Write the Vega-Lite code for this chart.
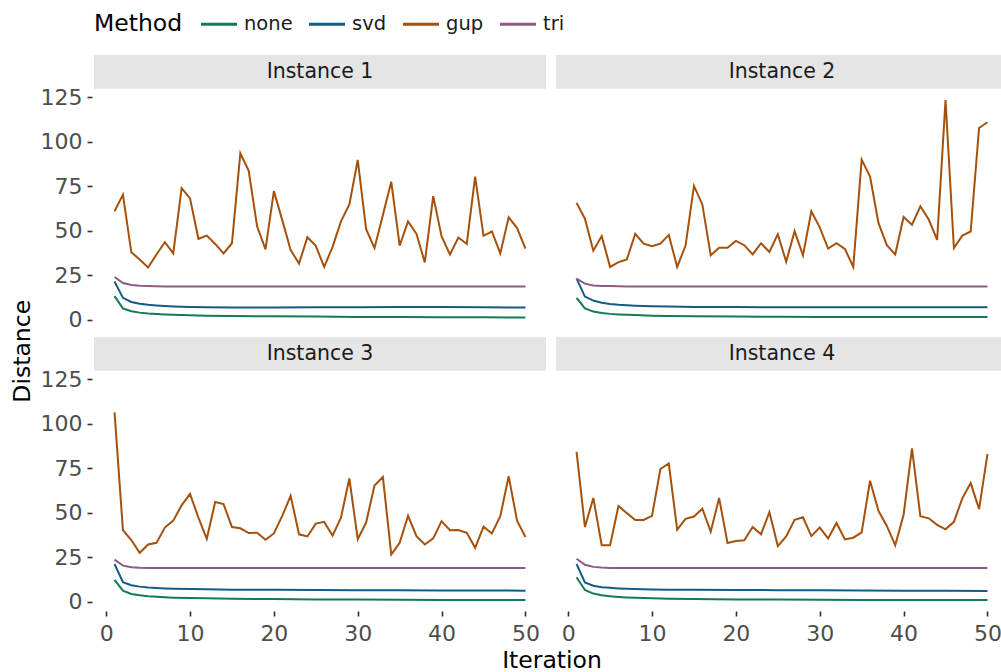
{
"$schema": "https://vega.github.io/schema/vega-lite/v6.json",
"padding": {"left": 10, "top": 4, "right": 0, "bottom": 0},
"title": {"text": "Distance", "orient": "left", "anchor": "middle", "fontSize": 23.5, "fontWeight": "normal", "color": "#000000", "offset": 6, "frame": "bounds", "dx": -13},
"data": {"values": [
{"Instance":"Instance 1","Method":"gup","Iteration":1,"Distance":61},
{"Instance":"Instance 1","Method":"gup","Iteration":2,"Distance":70.3},
{"Instance":"Instance 1","Method":"gup","Iteration":3,"Distance":37.9},
{"Instance":"Instance 1","Method":"gup","Iteration":4,"Distance":33.9},
{"Instance":"Instance 1","Method":"gup","Iteration":5,"Distance":29.4},
{"Instance":"Instance 1","Method":"gup","Iteration":6,"Distance":36.7},
{"Instance":"Instance 1","Method":"gup","Iteration":7,"Distance":43.6},
{"Instance":"Instance 1","Method":"gup","Iteration":8,"Distance":37.3},
{"Instance":"Instance 1","Method":"gup","Iteration":9,"Distance":74},
{"Instance":"Instance 1","Method":"gup","Iteration":10,"Distance":68.2},
{"Instance":"Instance 1","Method":"gup","Iteration":11,"Distance":45.5},
{"Instance":"Instance 1","Method":"gup","Iteration":12,"Distance":47.3},
{"Instance":"Instance 1","Method":"gup","Iteration":13,"Distance":42.6},
{"Instance":"Instance 1","Method":"gup","Iteration":14,"Distance":37.3},
{"Instance":"Instance 1","Method":"gup","Iteration":15,"Distance":43},
{"Instance":"Instance 1","Method":"gup","Iteration":16,"Distance":93.6},
{"Instance":"Instance 1","Method":"gup","Iteration":17,"Distance":83.7},
{"Instance":"Instance 1","Method":"gup","Iteration":18,"Distance":52.5},
{"Instance":"Instance 1","Method":"gup","Iteration":19,"Distance":39.6},
{"Instance":"Instance 1","Method":"gup","Iteration":20,"Distance":72.3},
{"Instance":"Instance 1","Method":"gup","Iteration":21,"Distance":56},
{"Instance":"Instance 1","Method":"gup","Iteration":22,"Distance":39.2},
{"Instance":"Instance 1","Method":"gup","Iteration":23,"Distance":31.6},
{"Instance":"Instance 1","Method":"gup","Iteration":24,"Distance":46.4},
{"Instance":"Instance 1","Method":"gup","Iteration":25,"Distance":41.5},
{"Instance":"Instance 1","Method":"gup","Iteration":26,"Distance":29.7},
{"Instance":"Instance 1","Method":"gup","Iteration":27,"Distance":41},
{"Instance":"Instance 1","Method":"gup","Iteration":28,"Distance":55.3},
{"Instance":"Instance 1","Method":"gup","Iteration":29,"Distance":64.8},
{"Instance":"Instance 1","Method":"gup","Iteration":30,"Distance":89.8},
{"Instance":"Instance 1","Method":"gup","Iteration":31,"Distance":50.9},
{"Instance":"Instance 1","Method":"gup","Iteration":32,"Distance":40.3},
{"Instance":"Instance 1","Method":"gup","Iteration":33,"Distance":58.9},
{"Instance":"Instance 1","Method":"gup","Iteration":34,"Distance":77.5},
{"Instance":"Instance 1","Method":"gup","Iteration":35,"Distance":41.7},
{"Instance":"Instance 1","Method":"gup","Iteration":36,"Distance":55.3},
{"Instance":"Instance 1","Method":"gup","Iteration":37,"Distance":48.3},
{"Instance":"Instance 1","Method":"gup","Iteration":38,"Distance":32.2},
{"Instance":"Instance 1","Method":"gup","Iteration":39,"Distance":69.5},
{"Instance":"Instance 1","Method":"gup","Iteration":40,"Distance":46.8},
{"Instance":"Instance 1","Method":"gup","Iteration":41,"Distance":36.7},
{"Instance":"Instance 1","Method":"gup","Iteration":42,"Distance":46.2},
{"Instance":"Instance 1","Method":"gup","Iteration":43,"Distance":42.6},
{"Instance":"Instance 1","Method":"gup","Iteration":44,"Distance":80.5},
{"Instance":"Instance 1","Method":"gup","Iteration":45,"Distance":47.2},
{"Instance":"Instance 1","Method":"gup","Iteration":46,"Distance":49.6},
{"Instance":"Instance 1","Method":"gup","Iteration":47,"Distance":37.3},
{"Instance":"Instance 1","Method":"gup","Iteration":48,"Distance":57.6},
{"Instance":"Instance 1","Method":"gup","Iteration":49,"Distance":51.5},
{"Instance":"Instance 1","Method":"gup","Iteration":50,"Distance":40},
{"Instance":"Instance 2","Method":"gup","Iteration":1,"Distance":65.7},
{"Instance":"Instance 2","Method":"gup","Iteration":2,"Distance":56.8},
{"Instance":"Instance 2","Method":"gup","Iteration":3,"Distance":38.8},
{"Instance":"Instance 2","Method":"gup","Iteration":4,"Distance":47},
{"Instance":"Instance 2","Method":"gup","Iteration":5,"Distance":29.7},
{"Instance":"Instance 2","Method":"gup","Iteration":6,"Distance":32.4},
{"Instance":"Instance 2","Method":"gup","Iteration":7,"Distance":33.9},
{"Instance":"Instance 2","Method":"gup","Iteration":8,"Distance":48.3},
{"Instance":"Instance 2","Method":"gup","Iteration":9,"Distance":42.8},
{"Instance":"Instance 2","Method":"gup","Iteration":10,"Distance":41.3},
{"Instance":"Instance 2","Method":"gup","Iteration":11,"Distance":42.8},
{"Instance":"Instance 2","Method":"gup","Iteration":12,"Distance":47.7},
{"Instance":"Instance 2","Method":"gup","Iteration":13,"Distance":29.7},
{"Instance":"Instance 2","Method":"gup","Iteration":14,"Distance":41.7},
{"Instance":"Instance 2","Method":"gup","Iteration":15,"Distance":75.2},
{"Instance":"Instance 2","Method":"gup","Iteration":16,"Distance":64.8},
{"Instance":"Instance 2","Method":"gup","Iteration":17,"Distance":36.2},
{"Instance":"Instance 2","Method":"gup","Iteration":18,"Distance":40.5},
{"Instance":"Instance 2","Method":"gup","Iteration":19,"Distance":40.5},
{"Instance":"Instance 2","Method":"gup","Iteration":20,"Distance":44.3},
{"Instance":"Instance 2","Method":"gup","Iteration":21,"Distance":41.9},
{"Instance":"Instance 2","Method":"gup","Iteration":22,"Distance":36.7},
{"Instance":"Instance 2","Method":"gup","Iteration":23,"Distance":43},
{"Instance":"Instance 2","Method":"gup","Iteration":24,"Distance":38.1},
{"Instance":"Instance 2","Method":"gup","Iteration":25,"Distance":48.1},
{"Instance":"Instance 2","Method":"gup","Iteration":26,"Distance":32.6},
{"Instance":"Instance 2","Method":"gup","Iteration":27,"Distance":49.8},
{"Instance":"Instance 2","Method":"gup","Iteration":28,"Distance":36.2},
{"Instance":"Instance 2","Method":"gup","Iteration":29,"Distance":61},
{"Instance":"Instance 2","Method":"gup","Iteration":30,"Distance":51.9},
{"Instance":"Instance 2","Method":"gup","Iteration":31,"Distance":40},
{"Instance":"Instance 2","Method":"gup","Iteration":32,"Distance":43},
{"Instance":"Instance 2","Method":"gup","Iteration":33,"Distance":39.8},
{"Instance":"Instance 2","Method":"gup","Iteration":34,"Distance":29.7},
{"Instance":"Instance 2","Method":"gup","Iteration":35,"Distance":90},
{"Instance":"Instance 2","Method":"gup","Iteration":36,"Distance":80.5},
{"Instance":"Instance 2","Method":"gup","Iteration":37,"Distance":54.4},
{"Instance":"Instance 2","Method":"gup","Iteration":38,"Distance":41.9},
{"Instance":"Instance 2","Method":"gup","Iteration":39,"Distance":36.7},
{"Instance":"Instance 2","Method":"gup","Iteration":40,"Distance":57.8},
{"Instance":"Instance 2","Method":"gup","Iteration":41,"Distance":53.4},
{"Instance":"Instance 2","Method":"gup","Iteration":42,"Distance":63.8},
{"Instance":"Instance 2","Method":"gup","Iteration":43,"Distance":56.3},
{"Instance":"Instance 2","Method":"gup","Iteration":44,"Distance":44.9},
{"Instance":"Instance 2","Method":"gup","Iteration":45,"Distance":123.5},
{"Instance":"Instance 2","Method":"gup","Iteration":46,"Distance":40.3},
{"Instance":"Instance 2","Method":"gup","Iteration":47,"Distance":47.3},
{"Instance":"Instance 2","Method":"gup","Iteration":48,"Distance":49.6},
{"Instance":"Instance 2","Method":"gup","Iteration":49,"Distance":107.8},
{"Instance":"Instance 2","Method":"gup","Iteration":50,"Distance":111},
{"Instance":"Instance 3","Method":"gup","Iteration":1,"Distance":106.4},
{"Instance":"Instance 3","Method":"gup","Iteration":2,"Distance":40.2},
{"Instance":"Instance 3","Method":"gup","Iteration":3,"Distance":34.7},
{"Instance":"Instance 3","Method":"gup","Iteration":4,"Distance":27.5},
{"Instance":"Instance 3","Method":"gup","Iteration":5,"Distance":32.2},
{"Instance":"Instance 3","Method":"gup","Iteration":6,"Distance":33.1},
{"Instance":"Instance 3","Method":"gup","Iteration":7,"Distance":41.7},
{"Instance":"Instance 3","Method":"gup","Iteration":8,"Distance":45.6},
{"Instance":"Instance 3","Method":"gup","Iteration":9,"Distance":54.2},
{"Instance":"Instance 3","Method":"gup","Iteration":10,"Distance":60.6},
{"Instance":"Instance 3","Method":"gup","Iteration":11,"Distance":47.3},
{"Instance":"Instance 3","Method":"gup","Iteration":12,"Distance":35.4},
{"Instance":"Instance 3","Method":"gup","Iteration":13,"Distance":56.1},
{"Instance":"Instance 3","Method":"gup","Iteration":14,"Distance":54.9},
{"Instance":"Instance 3","Method":"gup","Iteration":15,"Distance":42},
{"Instance":"Instance 3","Method":"gup","Iteration":16,"Distance":41.3},
{"Instance":"Instance 3","Method":"gup","Iteration":17,"Distance":38.6},
{"Instance":"Instance 3","Method":"gup","Iteration":18,"Distance":38.8},
{"Instance":"Instance 3","Method":"gup","Iteration":19,"Distance":34.8},
{"Instance":"Instance 3","Method":"gup","Iteration":20,"Distance":38.4},
{"Instance":"Instance 3","Method":"gup","Iteration":21,"Distance":48.3},
{"Instance":"Instance 3","Method":"gup","Iteration":22,"Distance":59.5},
{"Instance":"Instance 3","Method":"gup","Iteration":23,"Distance":37.9},
{"Instance":"Instance 3","Method":"gup","Iteration":24,"Distance":36.7},
{"Instance":"Instance 3","Method":"gup","Iteration":25,"Distance":43.9},
{"Instance":"Instance 3","Method":"gup","Iteration":26,"Distance":44.9},
{"Instance":"Instance 3","Method":"gup","Iteration":27,"Distance":37.1},
{"Instance":"Instance 3","Method":"gup","Iteration":28,"Distance":47.3},
{"Instance":"Instance 3","Method":"gup","Iteration":29,"Distance":69.3},
{"Instance":"Instance 3","Method":"gup","Iteration":30,"Distance":35.2},
{"Instance":"Instance 3","Method":"gup","Iteration":31,"Distance":44.5},
{"Instance":"Instance 3","Method":"gup","Iteration":32,"Distance":65.3},
{"Instance":"Instance 3","Method":"gup","Iteration":33,"Distance":70.1},
{"Instance":"Instance 3","Method":"gup","Iteration":34,"Distance":26.5},
{"Instance":"Instance 3","Method":"gup","Iteration":35,"Distance":33.1},
{"Instance":"Instance 3","Method":"gup","Iteration":36,"Distance":48.3},
{"Instance":"Instance 3","Method":"gup","Iteration":37,"Distance":36.9},
{"Instance":"Instance 3","Method":"gup","Iteration":38,"Distance":32.2},
{"Instance":"Instance 3","Method":"gup","Iteration":39,"Distance":35.6},
{"Instance":"Instance 3","Method":"gup","Iteration":40,"Distance":45.3},
{"Instance":"Instance 3","Method":"gup","Iteration":41,"Distance":40.2},
{"Instance":"Instance 3","Method":"gup","Iteration":42,"Distance":40.3},
{"Instance":"Instance 3","Method":"gup","Iteration":43,"Distance":38.8},
{"Instance":"Instance 3","Method":"gup","Iteration":44,"Distance":30.3},
{"Instance":"Instance 3","Method":"gup","Iteration":45,"Distance":42.2},
{"Instance":"Instance 3","Method":"gup","Iteration":46,"Distance":38.4},
{"Instance":"Instance 3","Method":"gup","Iteration":47,"Distance":48.1},
{"Instance":"Instance 3","Method":"gup","Iteration":48,"Distance":70.5},
{"Instance":"Instance 3","Method":"gup","Iteration":49,"Distance":45.5},
{"Instance":"Instance 3","Method":"gup","Iteration":50,"Distance":36.4},
{"Instance":"Instance 4","Method":"gup","Iteration":1,"Distance":84.3},
{"Instance":"Instance 4","Method":"gup","Iteration":2,"Distance":42},
{"Instance":"Instance 4","Method":"gup","Iteration":3,"Distance":58.3},
{"Instance":"Instance 4","Method":"gup","Iteration":4,"Distance":31.8},
{"Instance":"Instance 4","Method":"gup","Iteration":5,"Distance":31.8},
{"Instance":"Instance 4","Method":"gup","Iteration":6,"Distance":53.8},
{"Instance":"Instance 4","Method":"gup","Iteration":7,"Distance":49.8},
{"Instance":"Instance 4","Method":"gup","Iteration":8,"Distance":46},
{"Instance":"Instance 4","Method":"gup","Iteration":9,"Distance":46},
{"Instance":"Instance 4","Method":"gup","Iteration":10,"Distance":48.3},
{"Instance":"Instance 4","Method":"gup","Iteration":11,"Distance":74.6},
{"Instance":"Instance 4","Method":"gup","Iteration":12,"Distance":77.7},
{"Instance":"Instance 4","Method":"gup","Iteration":13,"Distance":40.5},
{"Instance":"Instance 4","Method":"gup","Iteration":14,"Distance":46.6},
{"Instance":"Instance 4","Method":"gup","Iteration":15,"Distance":47.9},
{"Instance":"Instance 4","Method":"gup","Iteration":16,"Distance":52.3},
{"Instance":"Instance 4","Method":"gup","Iteration":17,"Distance":39.4},
{"Instance":"Instance 4","Method":"gup","Iteration":18,"Distance":58.3},
{"Instance":"Instance 4","Method":"gup","Iteration":19,"Distance":33},
{"Instance":"Instance 4","Method":"gup","Iteration":20,"Distance":34.1},
{"Instance":"Instance 4","Method":"gup","Iteration":21,"Distance":34.5},
{"Instance":"Instance 4","Method":"gup","Iteration":22,"Distance":42},
{"Instance":"Instance 4","Method":"gup","Iteration":23,"Distance":37.9},
{"Instance":"Instance 4","Method":"gup","Iteration":24,"Distance":50.4},
{"Instance":"Instance 4","Method":"gup","Iteration":25,"Distance":31.3},
{"Instance":"Instance 4","Method":"gup","Iteration":26,"Distance":36.7},
{"Instance":"Instance 4","Method":"gup","Iteration":27,"Distance":46},
{"Instance":"Instance 4","Method":"gup","Iteration":28,"Distance":47.5},
{"Instance":"Instance 4","Method":"gup","Iteration":29,"Distance":36.9},
{"Instance":"Instance 4","Method":"gup","Iteration":30,"Distance":41.7},
{"Instance":"Instance 4","Method":"gup","Iteration":31,"Distance":35.6},
{"Instance":"Instance 4","Method":"gup","Iteration":32,"Distance":44.3},
{"Instance":"Instance 4","Method":"gup","Iteration":33,"Distance":35},
{"Instance":"Instance 4","Method":"gup","Iteration":34,"Distance":36},
{"Instance":"Instance 4","Method":"gup","Iteration":35,"Distance":39},
{"Instance":"Instance 4","Method":"gup","Iteration":36,"Distance":68},
{"Instance":"Instance 4","Method":"gup","Iteration":37,"Distance":51.1},
{"Instance":"Instance 4","Method":"gup","Iteration":38,"Distance":42.6},
{"Instance":"Instance 4","Method":"gup","Iteration":39,"Distance":31.8},
{"Instance":"Instance 4","Method":"gup","Iteration":40,"Distance":48.9},
{"Instance":"Instance 4","Method":"gup","Iteration":41,"Distance":86.2},
{"Instance":"Instance 4","Method":"gup","Iteration":42,"Distance":48.1},
{"Instance":"Instance 4","Method":"gup","Iteration":43,"Distance":46.9},
{"Instance":"Instance 4","Method":"gup","Iteration":44,"Distance":43.2},
{"Instance":"Instance 4","Method":"gup","Iteration":45,"Distance":40.7},
{"Instance":"Instance 4","Method":"gup","Iteration":46,"Distance":44.9},
{"Instance":"Instance 4","Method":"gup","Iteration":47,"Distance":58.1},
{"Instance":"Instance 4","Method":"gup","Iteration":48,"Distance":66.7},
{"Instance":"Instance 4","Method":"gup","Iteration":49,"Distance":52.1},
{"Instance":"Instance 4","Method":"gup","Iteration":50,"Distance":83},
{"Instance":"Instance 1","Method":"none","Iteration":1,"Distance":13.3},
{"Instance":"Instance 1","Method":"none","Iteration":2,"Distance":6.4},
{"Instance":"Instance 1","Method":"none","Iteration":3,"Distance":4.8},
{"Instance":"Instance 1","Method":"none","Iteration":4,"Distance":4.0},
{"Instance":"Instance 1","Method":"none","Iteration":5,"Distance":3.5},
{"Instance":"Instance 1","Method":"none","Iteration":6,"Distance":3.2},
{"Instance":"Instance 1","Method":"none","Iteration":7,"Distance":3.0},
{"Instance":"Instance 1","Method":"none","Iteration":8,"Distance":2.8},
{"Instance":"Instance 1","Method":"none","Iteration":10,"Distance":2.5},
{"Instance":"Instance 1","Method":"none","Iteration":12,"Distance":2.3},
{"Instance":"Instance 1","Method":"none","Iteration":15,"Distance":2.1},
{"Instance":"Instance 1","Method":"none","Iteration":20,"Distance":1.9},
{"Instance":"Instance 1","Method":"none","Iteration":25,"Distance":1.8},
{"Instance":"Instance 1","Method":"none","Iteration":30,"Distance":1.6},
{"Instance":"Instance 1","Method":"none","Iteration":35,"Distance":1.5},
{"Instance":"Instance 1","Method":"none","Iteration":40,"Distance":1.4},
{"Instance":"Instance 1","Method":"none","Iteration":45,"Distance":1.35},
{"Instance":"Instance 1","Method":"none","Iteration":50,"Distance":1.3},
{"Instance":"Instance 1","Method":"svd","Iteration":1,"Distance":21.5},
{"Instance":"Instance 1","Method":"svd","Iteration":2,"Distance":12.3},
{"Instance":"Instance 1","Method":"svd","Iteration":3,"Distance":10.0},
{"Instance":"Instance 1","Method":"svd","Iteration":4,"Distance":9.0},
{"Instance":"Instance 1","Method":"svd","Iteration":5,"Distance":8.4},
{"Instance":"Instance 1","Method":"svd","Iteration":6,"Distance":8.0},
{"Instance":"Instance 1","Method":"svd","Iteration":7,"Distance":7.7},
{"Instance":"Instance 1","Method":"svd","Iteration":8,"Distance":7.5},
{"Instance":"Instance 1","Method":"svd","Iteration":10,"Distance":7.2},
{"Instance":"Instance 1","Method":"svd","Iteration":12,"Distance":7.0},
{"Instance":"Instance 1","Method":"svd","Iteration":15,"Distance":6.9},
{"Instance":"Instance 1","Method":"svd","Iteration":20,"Distance":6.9},
{"Instance":"Instance 1","Method":"svd","Iteration":25,"Distance":7.0},
{"Instance":"Instance 1","Method":"svd","Iteration":30,"Distance":7.0},
{"Instance":"Instance 1","Method":"svd","Iteration":35,"Distance":7.1},
{"Instance":"Instance 1","Method":"svd","Iteration":40,"Distance":7.1},
{"Instance":"Instance 1","Method":"svd","Iteration":45,"Distance":7.0},
{"Instance":"Instance 1","Method":"svd","Iteration":50,"Distance":6.9},
{"Instance":"Instance 1","Method":"tri","Iteration":1,"Distance":24.0},
{"Instance":"Instance 1","Method":"tri","Iteration":2,"Distance":20.6},
{"Instance":"Instance 1","Method":"tri","Iteration":3,"Distance":19.5},
{"Instance":"Instance 1","Method":"tri","Iteration":4,"Distance":19.1},
{"Instance":"Instance 1","Method":"tri","Iteration":5,"Distance":18.9},
{"Instance":"Instance 1","Method":"tri","Iteration":6,"Distance":18.8},
{"Instance":"Instance 1","Method":"tri","Iteration":7,"Distance":18.75},
{"Instance":"Instance 1","Method":"tri","Iteration":8,"Distance":18.7},
{"Instance":"Instance 1","Method":"tri","Iteration":10,"Distance":18.7},
{"Instance":"Instance 1","Method":"tri","Iteration":12,"Distance":18.7},
{"Instance":"Instance 1","Method":"tri","Iteration":15,"Distance":18.7},
{"Instance":"Instance 1","Method":"tri","Iteration":20,"Distance":18.7},
{"Instance":"Instance 1","Method":"tri","Iteration":25,"Distance":18.7},
{"Instance":"Instance 1","Method":"tri","Iteration":30,"Distance":18.7},
{"Instance":"Instance 1","Method":"tri","Iteration":35,"Distance":18.7},
{"Instance":"Instance 1","Method":"tri","Iteration":40,"Distance":18.7},
{"Instance":"Instance 1","Method":"tri","Iteration":45,"Distance":18.7},
{"Instance":"Instance 1","Method":"tri","Iteration":50,"Distance":18.7},
{"Instance":"Instance 2","Method":"none","Iteration":1,"Distance":12.3},
{"Instance":"Instance 2","Method":"none","Iteration":2,"Distance":6.4},
{"Instance":"Instance 2","Method":"none","Iteration":3,"Distance":4.6},
{"Instance":"Instance 2","Method":"none","Iteration":4,"Distance":3.8},
{"Instance":"Instance 2","Method":"none","Iteration":5,"Distance":3.3},
{"Instance":"Instance 2","Method":"none","Iteration":6,"Distance":3.0},
{"Instance":"Instance 2","Method":"none","Iteration":7,"Distance":2.8},
{"Instance":"Instance 2","Method":"none","Iteration":8,"Distance":2.6},
{"Instance":"Instance 2","Method":"none","Iteration":10,"Distance":2.3},
{"Instance":"Instance 2","Method":"none","Iteration":12,"Distance":2.1},
{"Instance":"Instance 2","Method":"none","Iteration":15,"Distance":1.9},
{"Instance":"Instance 2","Method":"none","Iteration":20,"Distance":1.8},
{"Instance":"Instance 2","Method":"none","Iteration":25,"Distance":1.7},
{"Instance":"Instance 2","Method":"none","Iteration":30,"Distance":1.6},
{"Instance":"Instance 2","Method":"none","Iteration":35,"Distance":1.55},
{"Instance":"Instance 2","Method":"none","Iteration":40,"Distance":1.5},
{"Instance":"Instance 2","Method":"none","Iteration":45,"Distance":1.5},
{"Instance":"Instance 2","Method":"none","Iteration":50,"Distance":1.5},
{"Instance":"Instance 2","Method":"svd","Iteration":1,"Distance":23.1},
{"Instance":"Instance 2","Method":"svd","Iteration":2,"Distance":13.0},
{"Instance":"Instance 2","Method":"svd","Iteration":3,"Distance":10.8},
{"Instance":"Instance 2","Method":"svd","Iteration":4,"Distance":9.6},
{"Instance":"Instance 2","Method":"svd","Iteration":5,"Distance":8.9},
{"Instance":"Instance 2","Method":"svd","Iteration":6,"Distance":8.4},
{"Instance":"Instance 2","Method":"svd","Iteration":7,"Distance":8.1},
{"Instance":"Instance 2","Method":"svd","Iteration":8,"Distance":7.9},
{"Instance":"Instance 2","Method":"svd","Iteration":10,"Distance":7.6},
{"Instance":"Instance 2","Method":"svd","Iteration":12,"Distance":7.4},
{"Instance":"Instance 2","Method":"svd","Iteration":15,"Distance":7.2},
{"Instance":"Instance 2","Method":"svd","Iteration":20,"Distance":7.1},
{"Instance":"Instance 2","Method":"svd","Iteration":25,"Distance":7.0},
{"Instance":"Instance 2","Method":"svd","Iteration":30,"Distance":7.0},
{"Instance":"Instance 2","Method":"svd","Iteration":35,"Distance":7.0},
{"Instance":"Instance 2","Method":"svd","Iteration":40,"Distance":7.0},
{"Instance":"Instance 2","Method":"svd","Iteration":45,"Distance":7.0},
{"Instance":"Instance 2","Method":"svd","Iteration":50,"Distance":7.0},
{"Instance":"Instance 2","Method":"tri","Iteration":1,"Distance":23.1},
{"Instance":"Instance 2","Method":"tri","Iteration":2,"Distance":20.3},
{"Instance":"Instance 2","Method":"tri","Iteration":3,"Distance":19.3},
{"Instance":"Instance 2","Method":"tri","Iteration":4,"Distance":19.0},
{"Instance":"Instance 2","Method":"tri","Iteration":5,"Distance":18.9},
{"Instance":"Instance 2","Method":"tri","Iteration":6,"Distance":18.8},
{"Instance":"Instance 2","Method":"tri","Iteration":7,"Distance":18.75},
{"Instance":"Instance 2","Method":"tri","Iteration":8,"Distance":18.75},
{"Instance":"Instance 2","Method":"tri","Iteration":10,"Distance":18.75},
{"Instance":"Instance 2","Method":"tri","Iteration":12,"Distance":18.75},
{"Instance":"Instance 2","Method":"tri","Iteration":15,"Distance":18.75},
{"Instance":"Instance 2","Method":"tri","Iteration":20,"Distance":18.75},
{"Instance":"Instance 2","Method":"tri","Iteration":25,"Distance":18.75},
{"Instance":"Instance 2","Method":"tri","Iteration":30,"Distance":18.75},
{"Instance":"Instance 2","Method":"tri","Iteration":35,"Distance":18.75},
{"Instance":"Instance 2","Method":"tri","Iteration":40,"Distance":18.75},
{"Instance":"Instance 2","Method":"tri","Iteration":45,"Distance":18.75},
{"Instance":"Instance 2","Method":"tri","Iteration":50,"Distance":18.75},
{"Instance":"Instance 3","Method":"none","Iteration":1,"Distance":12.3},
{"Instance":"Instance 3","Method":"none","Iteration":2,"Distance":6.25},
{"Instance":"Instance 3","Method":"none","Iteration":3,"Distance":4.4},
{"Instance":"Instance 3","Method":"none","Iteration":4,"Distance":3.6},
{"Instance":"Instance 3","Method":"none","Iteration":5,"Distance":3.1},
{"Instance":"Instance 3","Method":"none","Iteration":6,"Distance":2.8},
{"Instance":"Instance 3","Method":"none","Iteration":7,"Distance":2.5},
{"Instance":"Instance 3","Method":"none","Iteration":8,"Distance":2.3},
{"Instance":"Instance 3","Method":"none","Iteration":10,"Distance":2.1},
{"Instance":"Instance 3","Method":"none","Iteration":12,"Distance":1.9},
{"Instance":"Instance 3","Method":"none","Iteration":15,"Distance":1.7},
{"Instance":"Instance 3","Method":"none","Iteration":20,"Distance":1.5},
{"Instance":"Instance 3","Method":"none","Iteration":25,"Distance":1.3},
{"Instance":"Instance 3","Method":"none","Iteration":30,"Distance":1.2},
{"Instance":"Instance 3","Method":"none","Iteration":35,"Distance":1.1},
{"Instance":"Instance 3","Method":"none","Iteration":40,"Distance":1.0},
{"Instance":"Instance 3","Method":"none","Iteration":45,"Distance":1.0},
{"Instance":"Instance 3","Method":"none","Iteration":50,"Distance":0.95},
{"Instance":"Instance 3","Method":"svd","Iteration":1,"Distance":21.2},
{"Instance":"Instance 3","Method":"svd","Iteration":2,"Distance":11.0},
{"Instance":"Instance 3","Method":"svd","Iteration":3,"Distance":9.3},
{"Instance":"Instance 3","Method":"svd","Iteration":4,"Distance":8.5},
{"Instance":"Instance 3","Method":"svd","Iteration":5,"Distance":8.0},
{"Instance":"Instance 3","Method":"svd","Iteration":6,"Distance":7.7},
{"Instance":"Instance 3","Method":"svd","Iteration":7,"Distance":7.5},
{"Instance":"Instance 3","Method":"svd","Iteration":8,"Distance":7.3},
{"Instance":"Instance 3","Method":"svd","Iteration":10,"Distance":7.1},
{"Instance":"Instance 3","Method":"svd","Iteration":12,"Distance":7.0},
{"Instance":"Instance 3","Method":"svd","Iteration":15,"Distance":6.8},
{"Instance":"Instance 3","Method":"svd","Iteration":20,"Distance":6.7},
{"Instance":"Instance 3","Method":"svd","Iteration":25,"Distance":6.6},
{"Instance":"Instance 3","Method":"svd","Iteration":30,"Distance":6.5},
{"Instance":"Instance 3","Method":"svd","Iteration":35,"Distance":6.4},
{"Instance":"Instance 3","Method":"svd","Iteration":40,"Distance":6.35},
{"Instance":"Instance 3","Method":"svd","Iteration":45,"Distance":6.3},
{"Instance":"Instance 3","Method":"svd","Iteration":50,"Distance":6.25},
{"Instance":"Instance 3","Method":"tri","Iteration":1,"Distance":23.7},
{"Instance":"Instance 3","Method":"tri","Iteration":2,"Distance":20.3},
{"Instance":"Instance 3","Method":"tri","Iteration":3,"Distance":19.4},
{"Instance":"Instance 3","Method":"tri","Iteration":4,"Distance":19.1},
{"Instance":"Instance 3","Method":"tri","Iteration":5,"Distance":19.0},
{"Instance":"Instance 3","Method":"tri","Iteration":6,"Distance":18.95},
{"Instance":"Instance 3","Method":"tri","Iteration":7,"Distance":18.9},
{"Instance":"Instance 3","Method":"tri","Iteration":8,"Distance":18.9},
{"Instance":"Instance 3","Method":"tri","Iteration":10,"Distance":18.9},
{"Instance":"Instance 3","Method":"tri","Iteration":12,"Distance":18.9},
{"Instance":"Instance 3","Method":"tri","Iteration":15,"Distance":18.9},
{"Instance":"Instance 3","Method":"tri","Iteration":20,"Distance":18.9},
{"Instance":"Instance 3","Method":"tri","Iteration":25,"Distance":18.9},
{"Instance":"Instance 3","Method":"tri","Iteration":30,"Distance":18.9},
{"Instance":"Instance 3","Method":"tri","Iteration":35,"Distance":18.9},
{"Instance":"Instance 3","Method":"tri","Iteration":40,"Distance":18.9},
{"Instance":"Instance 3","Method":"tri","Iteration":45,"Distance":18.9},
{"Instance":"Instance 3","Method":"tri","Iteration":50,"Distance":18.9},
{"Instance":"Instance 4","Method":"none","Iteration":1,"Distance":13.8},
{"Instance":"Instance 4","Method":"none","Iteration":2,"Distance":6.6},
{"Instance":"Instance 4","Method":"none","Iteration":3,"Distance":4.6},
{"Instance":"Instance 4","Method":"none","Iteration":4,"Distance":3.7},
{"Instance":"Instance 4","Method":"none","Iteration":5,"Distance":3.1},
{"Instance":"Instance 4","Method":"none","Iteration":6,"Distance":2.7},
{"Instance":"Instance 4","Method":"none","Iteration":7,"Distance":2.4},
{"Instance":"Instance 4","Method":"none","Iteration":8,"Distance":2.2},
{"Instance":"Instance 4","Method":"none","Iteration":10,"Distance":1.9},
{"Instance":"Instance 4","Method":"none","Iteration":12,"Distance":1.7},
{"Instance":"Instance 4","Method":"none","Iteration":15,"Distance":1.5},
{"Instance":"Instance 4","Method":"none","Iteration":20,"Distance":1.3},
{"Instance":"Instance 4","Method":"none","Iteration":25,"Distance":1.2},
{"Instance":"Instance 4","Method":"none","Iteration":30,"Distance":1.1},
{"Instance":"Instance 4","Method":"none","Iteration":35,"Distance":1.05},
{"Instance":"Instance 4","Method":"none","Iteration":40,"Distance":1.0},
{"Instance":"Instance 4","Method":"none","Iteration":45,"Distance":0.95},
{"Instance":"Instance 4","Method":"none","Iteration":50,"Distance":0.95},
{"Instance":"Instance 4","Method":"svd","Iteration":1,"Distance":21.2},
{"Instance":"Instance 4","Method":"svd","Iteration":2,"Distance":10.8},
{"Instance":"Instance 4","Method":"svd","Iteration":3,"Distance":9.0},
{"Instance":"Instance 4","Method":"svd","Iteration":4,"Distance":8.2},
{"Instance":"Instance 4","Method":"svd","Iteration":5,"Distance":7.8},
{"Instance":"Instance 4","Method":"svd","Iteration":6,"Distance":7.5},
{"Instance":"Instance 4","Method":"svd","Iteration":7,"Distance":7.3},
{"Instance":"Instance 4","Method":"svd","Iteration":8,"Distance":7.1},
{"Instance":"Instance 4","Method":"svd","Iteration":10,"Distance":6.9},
{"Instance":"Instance 4","Method":"svd","Iteration":12,"Distance":6.8},
{"Instance":"Instance 4","Method":"svd","Iteration":15,"Distance":6.7},
{"Instance":"Instance 4","Method":"svd","Iteration":20,"Distance":6.6},
{"Instance":"Instance 4","Method":"svd","Iteration":25,"Distance":6.5},
{"Instance":"Instance 4","Method":"svd","Iteration":30,"Distance":6.4},
{"Instance":"Instance 4","Method":"svd","Iteration":35,"Distance":6.3},
{"Instance":"Instance 4","Method":"svd","Iteration":40,"Distance":6.2},
{"Instance":"Instance 4","Method":"svd","Iteration":45,"Distance":6.15},
{"Instance":"Instance 4","Method":"svd","Iteration":50,"Distance":6.1},
{"Instance":"Instance 4","Method":"tri","Iteration":1,"Distance":24.2},
{"Instance":"Instance 4","Method":"tri","Iteration":2,"Distance":20.8},
{"Instance":"Instance 4","Method":"tri","Iteration":3,"Distance":19.6},
{"Instance":"Instance 4","Method":"tri","Iteration":4,"Distance":19.2},
{"Instance":"Instance 4","Method":"tri","Iteration":5,"Distance":19.0},
{"Instance":"Instance 4","Method":"tri","Iteration":6,"Distance":18.95},
{"Instance":"Instance 4","Method":"tri","Iteration":7,"Distance":18.9},
{"Instance":"Instance 4","Method":"tri","Iteration":8,"Distance":18.9},
{"Instance":"Instance 4","Method":"tri","Iteration":10,"Distance":18.9},
{"Instance":"Instance 4","Method":"tri","Iteration":12,"Distance":18.9},
{"Instance":"Instance 4","Method":"tri","Iteration":15,"Distance":18.9},
{"Instance":"Instance 4","Method":"tri","Iteration":20,"Distance":18.9},
{"Instance":"Instance 4","Method":"tri","Iteration":25,"Distance":18.9},
{"Instance":"Instance 4","Method":"tri","Iteration":30,"Distance":18.9},
{"Instance":"Instance 4","Method":"tri","Iteration":35,"Distance":18.9},
{"Instance":"Instance 4","Method":"tri","Iteration":40,"Distance":18.9},
{"Instance":"Instance 4","Method":"tri","Iteration":45,"Distance":18.9},
{"Instance":"Instance 4","Method":"tri","Iteration":50,"Distance":18.9}
]},
"vconcat": [{
"title": {"text": "Iteration", "orient": "bottom", "anchor": "middle", "fontSize": 23.5, "fontWeight": "normal", "color": "#000000", "offset": 5, "frame": "bounds", "dx": 28},
"facet": {"field": "Instance", "type": "nominal", "title": null, "header": {"labels": false, "title": null, "labelFontSize": 0, "labelPadding": 0, "labelExpr": "''"}},
"columns": 2,
"spacing": {"row": 8, "column": 10},
"spec": {
  "width": 452,
  "height": 274,
  "layer": [
    {
      "transform": [{"filter": "datum.Method === 'gup' && datum.Iteration === 1"}],
      "mark": {"type": "rect", "color": "#e5e5e5"},
      "encoding": {
        "x": {"datum": -1.45}, "x2": {"datum": 52.45},
        "y": {"datum": 129.9}, "y2": {"datum": 148.8}
      }
    },
    {
      "transform": [{"filter": "datum.Method === 'gup' && datum.Iteration === 1"}],
      "mark": {"type": "text", "fontSize": 20.5, "color": "#1a1a1a", "baseline": "middle", "align": "center"},
      "encoding": {
        "x": {"datum": 25.5},
        "y": {"datum": 139.3},
        "text": {"field": "Instance"}
      }
    },
    {
      "mark": {"type": "line", "strokeWidth": 2},
      "encoding": {
        "x": {
          "field": "Iteration", "type": "quantitative",
          "scale": {"domain": [-1.45, 52.45], "nice": false, "zero": false},
          "axis": {
            "title": null,
            "values": [0, 5, 10, 15, 20, 25, 30, 35, 40, 45, 50],
            "labelExpr": "datum.value % 10 === 0 ? datum.label : ''",
            "gridWidth": {"condition": {"test": "datum.value % 10 === 0", "value": 1.8}, "value": 0.9},
            "gridColor": {"condition": {"test": "datum.value % 10 === 0", "value": "#e6e6e6"}, "value": "#f3f3f3"},
            "tickOpacity": {"condition": {"test": "datum.value % 10 === 0", "value": 1}, "value": 0},
            "labelPadding": 7
          }
        },
        "y": {
          "field": "Distance", "type": "quantitative",
          "scale": {"domain": [-5.2, 148.8], "nice": false, "zero": false},
          "axis": {
            "title": null,
            "values": [0, 12.5, 25, 37.5, 50, 62.5, 75, 87.5, 100, 112.5, 125],
            "labelExpr": "datum.value % 25 === 0 ? datum.label : ''",
            "gridWidth": {"condition": {"test": "datum.value % 25 === 0", "value": 1.8}, "value": 0.9},
            "gridColor": {"condition": {"test": "datum.value % 25 === 0", "value": "#e6e6e6"}, "value": "#f3f3f3"},
            "tickOpacity": {"condition": {"test": "datum.value % 25 === 0", "value": 1}, "value": 0},
            "labelPadding": 5,
            "offset": 2
          }
        },
        "color": {
          "field": "Method", "type": "nominal",
          "scale": {"domain": ["none", "svd", "gup", "tri"], "range": ["#14785A", "#135C86", "#A5510C", "#8F5B84"]},
          "legend": {
            "orient": "top",
            "direction": "horizontal",
            "titleOrient": "left",
            "title": "Method",
            "symbolType": "stroke",
            "symbolStrokeWidth": 3,
            "symbolSize": 1300,
            "labelFontSize": 19.5,
            "titleFontSize": 23.5,
            "titleFontWeight": "normal",
            "titleColor": "#000000",
            "labelColor": "#1a1a1a",
            "columnPadding": 9,
            "labelOffset": 5,
            "titlePadding": 16,
            "titleAnchor": "middle",
            "titleBaseline": "line-top",
            "titleLineHeight": 10,
            "offset": 19
          }
        }
      }
    }
  ]
}
}],
"config": {
  "font": "DejaVu Sans",
  "view": {"stroke": null},
  "header": {"labels": false, "title": null},
  "headerFacet": {"labels": false, "title": null},
  "axis": {
    "domain": false,
    "labelColor": "#4d4d4d",
    "labelFontSize": 22,
    "titleFontWeight": "normal",
    "titleColor": "#000000",
    "tickColor": "#333333",
    "tickSize": 5,
    "tickWidth": 1.6
  }
}
}
